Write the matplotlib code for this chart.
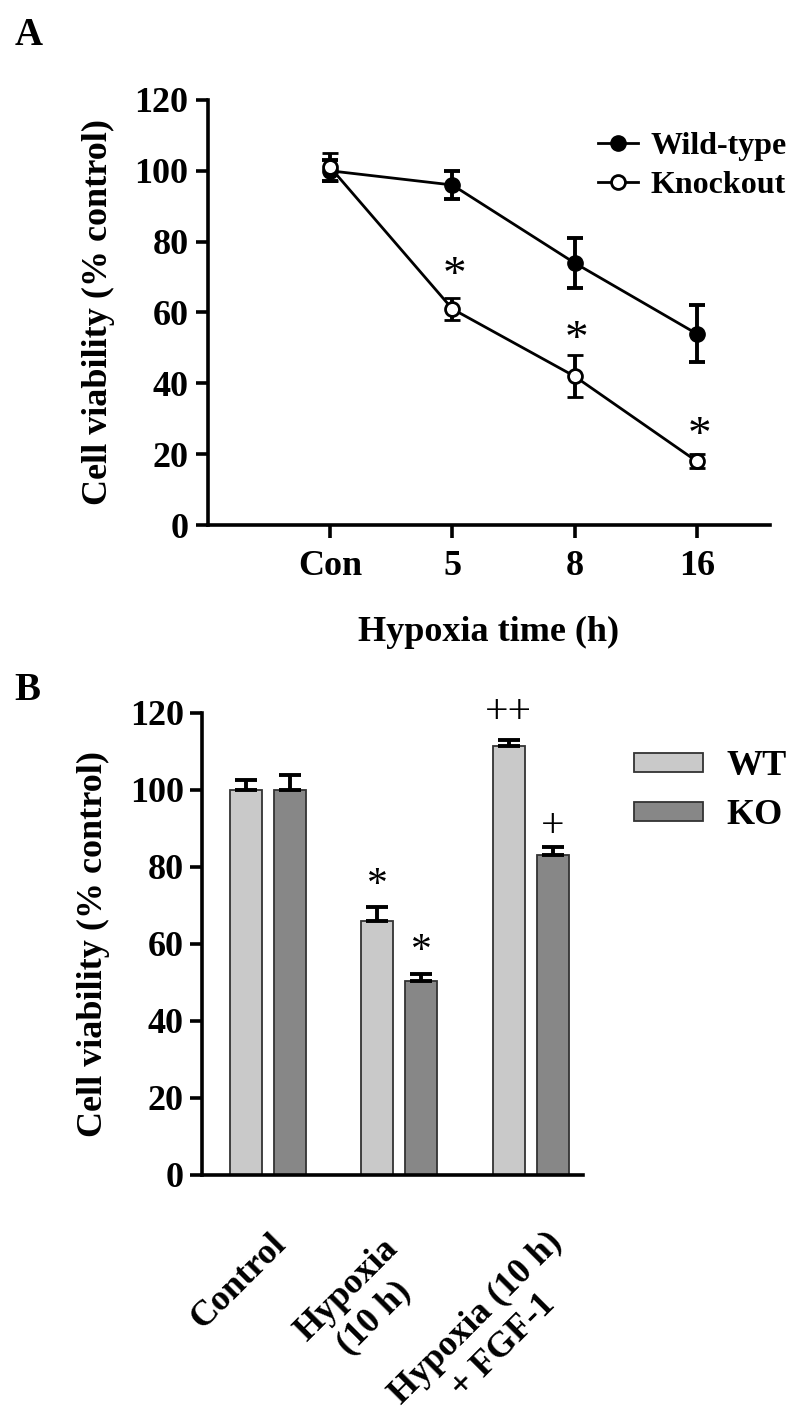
import numpy as np
import matplotlib.pyplot as plt
import matplotlib.transforms as mtransforms
from matplotlib.lines import Line2D

plt.rcParams['font.family'] = ['Liberation Serif', 'DejaVu Serif']
plt.rcParams['font.weight'] = 'bold'

# panel A data
time_labels = ['Con', '5', '8', '16']
wt_mean = [100, 96, 74, 54]
wt_err = [3, 4, 7, 8]
ko_mean = [101, 61, 42, 18]
ko_err = [4, 3, 6, 2]
star_a_pos = [1, 2, 3]
star_a_y = [70, 52, 25]

# panel B data
groups = ['Control', 'Hypoxia\n(10 h)', 'Hypoxia (10 h)\n+ FGF-1']
bar_wt = [100, 66, 111.5]
bar_wt_err = [2.7, 3.6, 1.4]
bar_ko = [100, 50.5, 83]
bar_ko_err = [4, 1.8, 2.3]
b_marks = [('*', 1, 'wt', 75), ('*', 1, 'ko', 58), ('++', 2, 'wt', 120), ('+', 2, 'ko', 90.5)]

fig = plt.figure(figsize=(8, 14.22), dpi=100)

lw = 2.6
fs = 26

# ---------------- A ----------------
ax = fig.add_axes([0.26, 0.6308, 0.7025, 0.2989])
x = np.arange(len(time_labels))
ax.errorbar(x, wt_mean, yerr=wt_err, color='black', lw=2, marker='o', ms=11,
            mfc='black', mec='black', capsize=6, capthick=2.8, elinewidth=2.8)
ax.errorbar(x, ko_mean, yerr=ko_err, color='black', lw=2, marker='o', ms=10,
            mfc='white', mec='black', mew=2, capsize=6, capthick=2.8, elinewidth=2.8)
for px, py in zip(star_a_pos, star_a_y):
    ax.text(px + 0.02, py, '*', ha='center', va='center', fontsize=34, fontweight='normal')
ax.set_xlim(-1.0, 3.6)
ax.set_ylim(0, 120)
ax.set_yticks(np.arange(0, 121, 20))
ax.set_xticks(x)
ax.set_xticklabels(time_labels)
for s in ['top', 'right']:
    ax.spines[s].set_visible(False)
for s in ['left', 'bottom']:
    ax.spines[s].set_linewidth(lw)
ax.tick_params(width=lw, length=9, labelsize=fs, pad=5)
ax.tick_params(axis='x', pad=9)
ax.set_ylabel('Cell viability (% control)', fontsize=fs, fontweight='bold', labelpad=14)
ax.set_xlabel('Hypoxia time (h)', fontsize=fs, fontweight='bold', labelpad=24)
leg_handles = [
    Line2D([], [], color='black', lw=2, marker='o', ms=11, mfc='black', mec='black'),
    Line2D([], [], color='black', lw=2, marker='o', ms=10, mfc='white', mec='black', mew=2),
]
fig.legend(leg_handles, ['Wild-type', 'Knockout'], loc='upper left',
           bbox_to_anchor=(0.7475, 0.9075), frameon=False, fontsize=23,
           handlelength=1.25, handletextpad=0.4, labelspacing=0.3,
           borderpad=0, borderaxespad=0)

# ---------------- B ----------------
bx = fig.add_axes([0.2525, 0.1737, 0.4765, 0.3249])
g = np.arange(len(groups))
w = 0.244
off = 0.167
bx.bar(g - off, bar_wt, w, color='#c9c9c9', edgecolor='#333333', lw=1.3, label='WT', zorder=2)
bx.bar(g + off, bar_ko, w, color='#878787', edgecolor='#333333', lw=1.3, label='KO', zorder=2)
zeros = np.zeros(len(groups))
bx.errorbar(g - off, bar_wt, yerr=[zeros, bar_wt_err], fmt='none', ecolor='black',
            elinewidth=2.8, capsize=8, capthick=2.8, zorder=3)
bx.errorbar(g + off, bar_ko, yerr=[zeros, bar_ko_err], fmt='none', ecolor='black',
            elinewidth=2.8, capsize=8, capthick=2.8, zorder=3)
for txt, gi, which, yy in b_marks:
    xx = gi - off if which == 'wt' else gi + off
    bx.text(xx, yy, txt, ha='center', va='center', fontsize=30, fontweight='normal')
bx.set_xlim(-0.5, 2.4)
bx.set_ylim(0, 120)
bx.set_yticks(np.arange(0, 121, 20))
bx.set_xticks(g)
bx.set_xticklabels([])
# rotated group labels, nudged per label (points)
nudges = [(9.7, -46.4), (5.3, -60.0), (29.0, -55.0)]
for gi, lab, (dx, dy) in zip(g, groups, nudges):
    tr = bx.get_xaxis_transform() + mtransforms.ScaledTranslation(dx / 72, dy / 72, fig.dpi_scale_trans)
    bx.text(gi, 0, lab, transform=tr, rotation=45, ha='right', va='center',
            rotation_mode='anchor', fontsize=fs, fontweight='bold',
            multialignment='center', linespacing=1.25)
bx.tick_params(axis='x', length=0)
bx.tick_params(axis='y', width=lw, length=9, labelsize=fs, pad=4)
for s in ['top', 'right']:
    bx.spines[s].set_visible(False)
for s in ['left', 'bottom']:
    bx.spines[s].set_linewidth(lw)
bx.set_ylabel('Cell viability (% control)', fontsize=fs, fontweight='bold', labelpad=14)
fig.legend(*bx.get_legend_handles_labels(), loc='upper left', bbox_to_anchor=(0.7925, 0.4725),
           frameon=False, fontsize=26, handlelength=1.9, handleheight=0.45,
           handletextpad=0.65, labelspacing=0.45, borderpad=0, borderaxespad=0)

fig.text(0.018, 0.988, 'A', fontsize=28, fontweight='bold', va='top')
fig.text(0.018, 0.5275, 'B', fontsize=28, fontweight='bold', va='top')

fig.savefig('out.png', dpi=100)
